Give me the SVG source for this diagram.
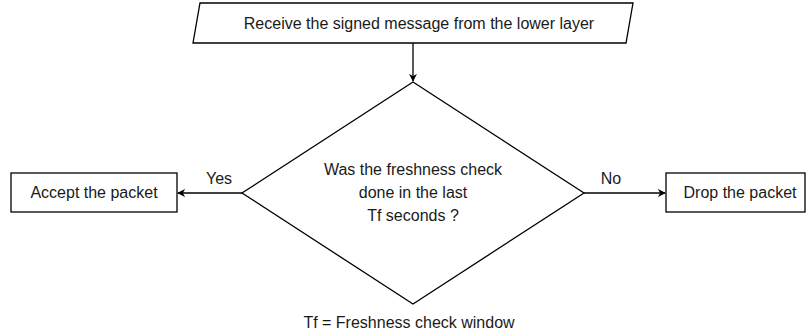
<svg xmlns="http://www.w3.org/2000/svg" width="807" height="335" viewBox="0 0 807 335">
<defs>
<marker id="arr" viewBox="0 0 10 10" refX="9" refY="5" markerWidth="8" markerHeight="8" markerUnits="userSpaceOnUse" orient="auto">
<path d="M0,0 L10,5 L0,10 L3,5 Z" fill="#000"/>
</marker>
<style>
.s{fill:#fff;stroke:#000;stroke-width:1.3}
.t{font-family:"Liberation Sans",Arial,sans-serif;font-size:16px;fill:#1a1a1a;text-anchor:middle}
.c{fill:none;stroke:#000;stroke-width:1.3;marker-end:url(#arr)}
</style>
</defs>
<rect width="807" height="335" fill="#fff"/>
<g id="connectors">
<line class="c" x1="413" y1="43" x2="413" y2="81"/>
<line class="c" x1="242" y1="193" x2="178" y2="193"/>
<line class="c" x1="584" y1="193" x2="665" y2="193"/>
</g>
<g id="receive">
<polygon class="s" points="200,3 633,3 626,43 193,43"/>
<text class="t" x="419" y="29">Receive the signed message from the lower layer</text>
</g>
<g id="decision">
<polygon class="s" points="413,82 584,193 413,304 242,193"/>
<text class="t" x="413" y="175">Was the freshness check</text>
<text class="t" x="413" y="198">done in the last</text>
<text class="t" x="413" y="221">Tf seconds ?</text>
</g>
<g id="accept">
<rect class="s" x="11" y="173" width="166" height="39"/>
<text class="t" x="94" y="198">Accept the packet</text>
</g>
<g id="drop">
<rect class="s" x="666" y="173" width="139" height="39"/>
<text class="t" x="740" y="198">Drop the packet</text>
</g>
<g id="labels">
<text class="t" x="219" y="184">Yes</text>
<text class="t" x="611" y="184">No</text>
<text class="t" x="409" y="328">Tf = Freshness check window</text>
</g>
</svg>
